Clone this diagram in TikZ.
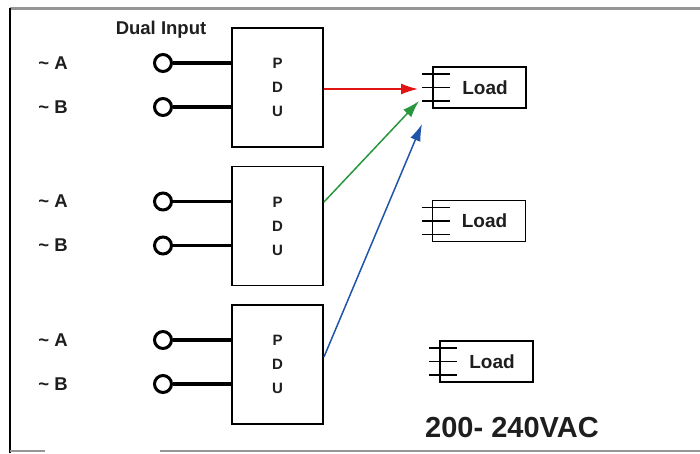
\documentclass[tikz,border=0pt]{standalone}
\usepackage{fontspec}
\setmainfont{Liberation Sans}
\usetikzlibrary{positioning, arrows.meta, graphs}
\definecolor{rojo}{RGB}{225,20,20}
\definecolor{verde}{RGB}{40,150,60}
\definecolor{azul}{RGB}{30,85,170}
\definecolor{marco}{RGB}{150,150,150}
\definecolor{texto}{RGB}{30,30,30}
\tikzset{
    bloque/.style={rectangle, draw=black, line width=1.9pt, minimum width=91pt,
        minimum height=119pt, inner sep=0pt, align=center, text=texto,
        font=\fontsize{15}{24}\selectfont\bfseries},
    carga/.style={rectangle, draw=black, line width=1.9pt, minimum width=93pt,
        minimum height=41pt, inner sep=0pt, text=texto,
        font=\fontsize{19}{19}\selectfont\bfseries,
        execute at begin node={\hspace*{11pt}}},
    borne/.style={draw, circle, line width=3pt, minimum size=17pt, inner sep=0pt},
    etiqueta/.style={text=texto, font=\fontsize{18.5}{18.5}\selectfont\bfseries},
    cable/.style={line width=3.2pt},
    patas/.style={line width=1.8pt},
    flecha/.style={line width=1.5pt, -{Latex[length=17pt,width=11pt]}},
    conexion/.style={coordinate}}
\begin{document}
\begin{tikzpicture}[x=1pt, y=-1pt]
    \useasboundingbox (0,0) rectangle (700,453);
    % Marco
    \draw[marco, line width=3pt] (10,8) -- (700,8);
    \draw[line width=2pt] (10,8) -- (10,453);
    \draw[marco, line width=1.5pt] (10,451) -- (45,451) (160,451) -- (700,451);

    \node (dual) [etiqueta] at (161,30) {Dual Input};

    % PDUs con sus entradas
    \foreach \n/\y in {1/87.5, 2/226, 3/364.5}{
        \node (pdu\n) [bloque] at (277.5,\y) {P\\D\\U};
        \node (a\n) [borne] at (163,\y-24.5) {};
        \node (b\n) [borne] at (163,\y+19.5) {};
        \node (ea\n) [etiqueta] at (53,\y-24.5) {\textasciitilde\ A};
        \node (eb\n) [etiqueta] at (53,\y+19.5) {\textasciitilde\ B};
        \draw[cable] (a\n) -- (a\n -| pdu\n.west);
        \draw[cable] (b\n) -- (b\n -| pdu\n.west);
    }

    % Cargas
    \node (c1) [carga] at (479.5,87.5) {Load};
    \node (c2) [carga] at (479,221) {Load};
    \node (c3) [carga] at (486.5,361.5) {Load};
    \foreach \c in {c1, c2, c3}{
        \foreach \dy in {-13.5, 0, 13.5}{
            \draw[patas] ([xshift=-10pt, yshift=\dy pt]\c.west) -- ++(28,0);
        }
    }

    % Conexiones
    \node (p1) [conexion] at (418,89) {};
    \node (p2) [conexion] at (419,101) {};
    \node (p3) [conexion] at (422,124) {};
    \draw[flecha, rojo] ([yshift=-1.5pt]pdu1.east) -- (p1);
    \draw[flecha, verde] ([yshift=24pt]pdu2.east) -- (p2);
    \draw[flecha, azul] ([yshift=7.5pt]pdu3.east) -- (p3);

    \node (volt) [text=texto, font=\fontsize{29}{29}\selectfont\bfseries] at (512,428) {200- 240VAC};
\end{tikzpicture}
\end{document}
